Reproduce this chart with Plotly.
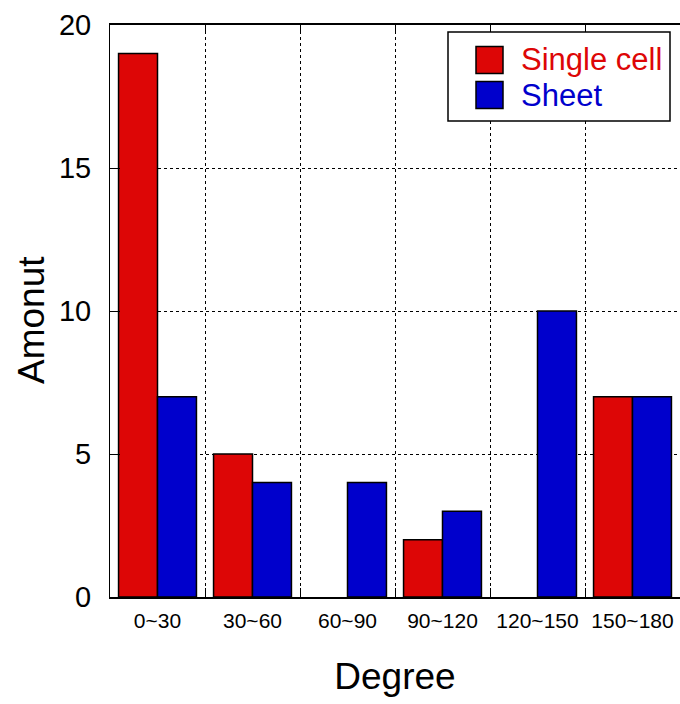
import plotly.graph_objects as go

categories = ["0~30", "30~60", "60~90", "90~120", "120~150", "150~180"]
single_cell = [19, 5, 0, 2, 0, 7]
sheet = [7, 4, 4, 3, 10, 7]
series_names = ["Single cell", "Sheet"]
y_ticks = [0, 5, 10, 15, 20]

RED = "#DD0606"
BLUE = "#0000CC"
FONT = "Liberation Sans, Arial, sans-serif"

# plot area spans x 110..680, y 25..597
PL, PT, PW, PH = 110, 25, 570, 572


def px(x):
    return (x - PL) / PW


def py(y):
    return (PT + PH - y) / PH


fig = go.Figure()
for vals, name, col in [(single_cell, series_names[0], RED), (sheet, series_names[1], BLUE)]:
    fig.add_trace(go.Bar(x=categories, y=vals, name=name,
                         marker=dict(color=col,
                                     line=dict(color="black",
                                               width=[1.5 if v else 0 for v in vals]))))

fig.update_layout(
    width=680, height=704,
    margin=dict(l=110, r=0, t=25, b=107),
    plot_bgcolor="white", paper_bgcolor="white",
    barmode="group", bargap=0.18, bargroupgap=0,
    showlegend=False,
    font=dict(family=FONT, color="black"),
)
fig.update_xaxes(
    type="category", tickson="boundaries",
    showline=True, linecolor="black", linewidth=1.5, mirror="ticks",
    ticks="inside", ticklen=9, tickcolor="black",
    showgrid=True, gridcolor="black", gridwidth=1, griddash="3px,3px",
    tickfont=dict(size=21, family=FONT), ticklabelstandoff=4,
    title=dict(text="Degree", font=dict(size=37, family=FONT), standoff=32),
)
fig.update_yaxes(
    range=[0, 20], tickvals=y_ticks,
    showline=True, linecolor="black", linewidth=1, mirror=False,
    ticks="inside", ticklen=10, tickcolor="black",
    showgrid=True, gridcolor="black", gridwidth=1, griddash="3px,3px",
    zeroline=False,
    tickfont=dict(size=29, family=FONT), ticklabelstandoff=12,
)

# y-axis title
fig.add_annotation(xref="paper", yref="paper", x=px(31), y=py(320),
                   xanchor="center", yanchor="middle", showarrow=False,
                   textangle=-90, text="Amonut", font=dict(size=37, family=FONT))

# legend box
fig.add_shape(type="rect", xref="paper", yref="paper",
              x0=px(448), x1=px(670), y0=py(121), y1=py(32),
              line=dict(color="black", width=1.5), fillcolor="white", layer="above")
for i, (name, col) in enumerate(zip(series_names, [RED, BLUE])):
    yc = 60 + i * 35
    fig.add_shape(type="rect", xref="paper", yref="paper",
                  x0=px(476), x1=px(503), y0=py(yc + 13.5), y1=py(yc - 13.5),
                  line=dict(color="black", width=1.5), fillcolor=col, layer="above")
    fig.add_annotation(xref="paper", yref="paper",
                       x=px(519), y=py(yc),
                       xanchor="left", yanchor="middle", showarrow=False,
                       text=name, font=dict(size=31, color=col, family=FONT))

fig.write_html("out.html", config={"displayModeBar": False},
               post_script="document.body.style.margin='0';document.body.style.overflow='hidden';")
